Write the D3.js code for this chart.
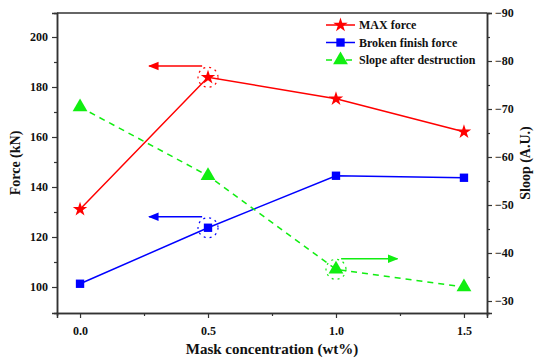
<!DOCTYPE html>
<html>
<head>
<meta charset="utf-8">
<script src="https://d3js.org/d3.v7.min.js"></script>
<style>
  body { margin: 0; background: #fff; }
  svg text { font-family: "Liberation Serif", "Times New Roman", serif; font-weight: bold; fill: #111; }
</style>
</head>
<body>
<svg id="chart" width="540" height="362"></svg>
<script>
// values
var conc = [0.0, 0.5, 1.0, 1.5];
var maxForce = [131.1, 183.9, 175.3, 162.1];
var brokenForce = [101.3, 123.7, 144.5, 143.7];
var slope = [-70.4, -56.1, -36.6, -32.9];
var seriesNames = ["MAX force", "Broken finish force", "Slope after destruction"];
var leftTicks = [100, 120, 140, 160, 180, 200];
var rightTicks = [-30, -40, -50, -60, -70, -80, -90];
var xTicks = [0.0, 0.5, 1.0, 1.5];

var margin = {left: 57, top: 13, right: 53, bottom: 49};
var width = 540 - margin.left - margin.right;
var height = 362 - margin.top - margin.bottom;

var svg = d3.select("#chart");
var defs = svg.append("defs");
[["arrRed", "#ff0000"], ["arrBlue", "#0000ff"], ["arrGreen", "#11ee11"]].forEach(function (a) {
  defs.append("marker")
    .attr("id", a[0])
    .attr("viewBox", "0 0 10 10")
    .attr("refX", 9).attr("refY", 5)
    .attr("markerWidth", 7).attr("markerHeight", 7)
    .attr("orient", "auto")
    .append("path").attr("d", "M0,1 L10,5 L0,9 z").attr("fill", a[1]);
});

var g = svg.append("g").attr("transform", "translate(" + margin.left + "," + margin.top + ")");

var x = d3.scaleLinear().domain([-0.09, 1.59]).range([0, width]);
var yL = d3.scaleLinear().domain([89.6, 209.6]).range([height, 0]);
var yR = d3.scaleLinear().domain([-27.5, -90]).range([height, 0]);

function styleAxis(sel) {
  sel.select(".domain").attr("stroke", "#333").attr("stroke-width", 1.5);
  sel.selectAll(".tick line").attr("stroke", "#333").attr("stroke-width", 1.2);
  sel.selectAll(".tick text").style("font-size", "12px");
}

// minor ticks first
g.append("g").attr("transform", "translate(0," + height + ")")
  .call(d3.axisBottom(x).tickValues([0.25, 0.75, 1.25]).tickSize(3).tickFormat(""))
  .call(styleAxis);
g.append("g").call(d3.axisLeft(yL).tickValues([110, 130, 150, 170, 190]).tickSize(3).tickFormat(""))
  .call(styleAxis);
g.append("g").attr("transform", "translate(" + width + ",0)")
  .call(d3.axisRight(yR).tickValues([-35, -45, -55, -65, -75, -85]).tickSize(3).tickFormat(""))
  .call(styleAxis);

g.append("g").attr("transform", "translate(0," + height + ")")
  .call(d3.axisBottom(x).tickValues(xTicks).tickSize(5).tickPadding(8).tickFormat(d3.format(".1f")))
  .call(styleAxis);
g.append("g").call(d3.axisLeft(yL).tickValues(leftTicks).tickSize(5).tickPadding(4))
  .call(styleAxis);
g.append("g").attr("transform", "translate(" + width + ",0)")
  .call(d3.axisRight(yR).tickValues(rightTicks).tickSize(5).tickPadding(3))
  .call(styleAxis);
g.append("line").attr("x1", 0).attr("x2", width).attr("y1", 0).attr("y2", 0)
  .attr("stroke", "#333").attr("stroke-width", 1.5);

// axis titles
svg.append("text").attr("transform", "translate(20," + (margin.top + height / 2) + ") rotate(-90)")
  .attr("text-anchor", "middle").style("font-size", "14px").text("Force (kN)");
svg.append("text").attr("transform", "translate(530," + (margin.top + height / 2) + ") rotate(-90)")
  .attr("text-anchor", "middle").style("font-size", "14px").text("Sloop (A.U.)");
svg.append("text").attr("x", margin.left + width / 2).attr("y", 354)
  .attr("text-anchor", "middle").style("font-size", "15px").text("Mask concentration (wt%)");

var star = d3.symbol().type(d3.symbolStar).size(65);
var square = d3.symbol().type(d3.symbolSquare).size(70);
var tri = d3.symbol().type(d3.symbolTriangle).size(95);

function drawSeries(vals, y, color, dash, sym) {
  var line = d3.line().x(function (d, i) { return x(conc[i]); }).y(function (d) { return y(d); });
  g.append("path").datum(vals).attr("d", line).attr("fill", "none")
    .attr("stroke", color).attr("stroke-width", 1.5).attr("stroke-dasharray", dash);
  g.selectAll(null).data(vals).enter().append("path")
    .attr("d", sym)
    .attr("transform", function (d, i) { return "translate(" + x(conc[i]) + "," + y(d) + ")"; })
    .attr("fill", color);
}
drawSeries(maxForce, yL, "#ff0000", null, star);
drawSeries(brokenForce, yL, "#0000ff", null, square);
drawSeries(slope, yR, "#11ee11", "6,5", tri);

// highlight circles and direction arrows
function ring(cx, cy, color) {
  g.append("circle").attr("cx", cx).attr("cy", cy).attr("r", 10)
    .attr("fill", "none").attr("stroke", color).attr("stroke-width", 1.2).attr("stroke-dasharray", "2,4");
}
ring(x(conc[1]), yL(maxForce[1]), "#ff0000");
ring(x(conc[1]), yL(brokenForce[1]), "#0000ff");
ring(x(conc[2]), yR(slope[2]), "#11ee11");

function arrow(x1, x2, yv, color, id) {
  g.append("line").attr("x1", x1).attr("x2", x2).attr("y1", yv).attr("y2", yv)
    .attr("stroke", color).attr("stroke-width", 1.5).attr("marker-end", "url(#" + id + ")");
}
arrow(x(0.477), x(0.27), yL(188.4), "#ff0000", "arrRed");
arrow(x(0.477), x(0.27), yL(128.1), "#0000ff", "arrBlue");
arrow(x(1.02), x(1.24), yR(-38.8), "#11ee11", "arrGreen");

// legend
var legend = svg.append("g").attr("transform", "translate(326,25)");
var legendColors = ["#ff0000", "#0000ff", "#11ee11"];
var legendSyms = [star, square, tri];
seriesNames.forEach(function (name, i) {
  var row = legend.append("g").attr("transform", "translate(0," + (i * 17.5) + ")");
  row.append("line").attr("x1", 0).attr("x2", 29).attr("y1", 0).attr("y2", 0)
    .attr("stroke", legendColors[i]).attr("stroke-width", 1.5)
    .attr("stroke-dasharray", i === 2 ? "6,4" : null);
  row.append("path").attr("d", legendSyms[i]).attr("transform", "translate(14.5,0)").attr("fill", legendColors[i]);
  row.append("text").attr("x", 33).attr("y", 4).style("font-size", "12px").text(name);
});
</script>
</body>
</html>
